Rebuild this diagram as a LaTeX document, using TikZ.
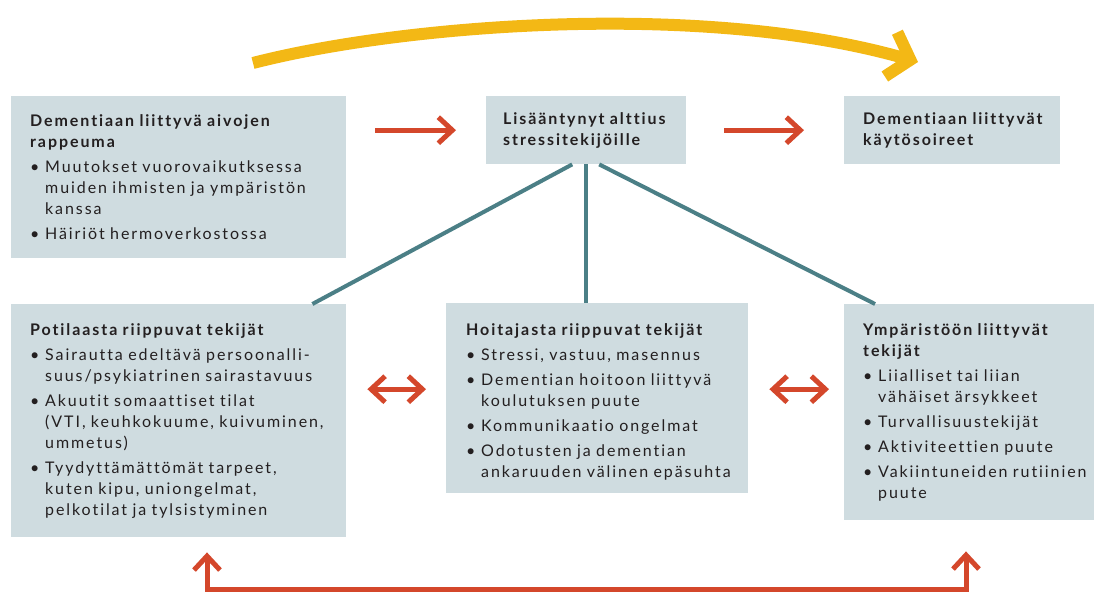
\documentclass[tikz,border=0pt]{standalone}
\usepackage{fontspec}
\setmainfont{Lato}[LetterSpace=12,Ligatures={NoCommon,NoContextual}]
\usepackage{tikz}
\usetikzlibrary{arrows.meta,positioning}

\definecolor{laatikkovari}{HTML}{CFDCE0}
\definecolor{tekstivari}{HTML}{231F20}
\definecolor{punainen}{HTML}{D4472B}
\definecolor{keltainen}{HTML}{F3B815}
\definecolor{turkoosi}{HTML}{4B7F86}

% otsikko ja luettelon kohta (riippuva sisennys, rivit katkaistaan kasin)
\newcommand{\otsikko}[1]{\rightskip=-40pt plus 1fil\textbf{#1}\par}
\newcommand{\kohta}[1]{\vspace{4pt}\hangindent=15pt\hangafter=1\rightskip=-40pt plus 1fil
  \noindent\makebox[15pt][l]{\textbullet}#1\par}

\begin{document}
\begin{tikzpicture}[x=1pt,y=-1pt,>={Straight Barb[length=14pt,width=26pt]},
  laatikko/.style={fill=laatikkovari,text=tekstivari,align=left,anchor=north west,
    inner xsep=19pt,inner ysep=0pt,font=\fontsize{16}{21}\selectfont},
  nuoli/.style={draw=punainen,line width=5pt},
  yhteys/.style={draw=turkoosi,line width=4pt}]
%\tikzstyle{every node}=[draw=red]
  \useasboundingbox (0,0) rectangle (1094,592);

  \node[laatikko,text width=297pt,minimum height=162pt] (aivo) at (11,96)
    {\otsikko{Dementiaan liittyvä aivojen\newline rappeuma}
     \kohta{Muutokset vuorovaikutksessa\newline muiden ihmisten ja ympäristön\newline kanssa}
     \kohta{Häiriöt hermoverkostossa}};
  \node[laatikko,text width=166pt,inner xsep=17pt,minimum height=68pt] (stressi) at (486,96)
    {\otsikko{Lisääntynyt alttius\newline stressitekijöille}};
  \node[laatikko,text width=178pt,minimum height=68pt] (oireet) at (844,96)
    {\otsikko{Dementiaan liittyvät\newline käytösoireet}};

  \node[laatikko,text width=297pt,minimum height=233pt] (potilas) at (11,304)
    {\otsikko{Potilaasta riippuvat tekijät}
     \kohta{Sairautta edeltävä persoonalli-\newline suus/psykiatrinen sairastavuus}
     \kohta{Akuutit somaattiset tilat\newline (VTI, keuhkokuume, kuivuminen,\newline ummetus)}
     \kohta{Tyydyttämättömät tarpeet,\newline kuten kipu, uniongelmat,\newline pelkotilat ja tylsistyminen}};
  \node[laatikko,text width=262pt,inner xsep=20pt,minimum height=190pt] (hoitaja) at (446,303)
    {\otsikko{Hoitajasta riippuvat tekijät}
     \kohta{Stressi, vastuu, masennus}
     \kohta{Dementian hoitoon liittyvä\newline koulutuksen puute}
     \kohta{Kommunikaatio ongelmat}
     \kohta{Odotusten ja dementian\newline ankaruuden välinen epäsuhta}\vspace{-7pt}};
  \node[laatikko,text width=212pt,minimum height=216pt] (ymparisto) at (844,304)
    {\otsikko{Ympäristöön liittyvät\newline tekijät}
     \kohta{Liialliset tai liian\newline vähäiset ärsykkeet}
     \kohta{Turvallisuustekijät}
     \kohta{Aktiviteettien puute}
     \kohta{Vakiintuneiden rutiinien\newline puute}};

  % stressialttiudesta alas
  \draw[yhteys] ([xshift=-14pt]stressi.south) -- ([xshift=-34pt]potilas.north east);
  \draw[yhteys] (stressi.south) -- (stressi.south |- hoitaja.north);
  \draw[yhteys] ([xshift=13pt]stressi.south) -- ([xshift=31pt]ymparisto.north west);

  % punaiset nuolet
  \draw[nuoli,->,shorten <=29pt,shorten >=30pt] (aivo.east |- stressi.west) -- (stressi.west);
  \draw[nuoli,->,shorten <=38pt,shorten >=40pt] (stressi.east) -- (oireet.west);
  \draw[nuoli,<->,shorten <=21pt,shorten >=20pt]
    ([yshift=9pt]hoitaja.west -| potilas.east) -- ([yshift=9pt]hoitaja.west);
  \draw[nuoli,<->,shorten <=21pt,shorten >=15pt]
    ([yshift=9pt]hoitaja.east) -- ([yshift=9pt]hoitaja.east -| ymparisto.west);
  \draw[nuoli,<->,miter limit=10,shorten <=15pt,shorten >=31pt]
    ([xshift=196pt]potilas.south west) -- ++(0,52) -| ([xshift=122pt]ymparisto.south west);

  % keltainen kaari
  \draw[draw=keltainen,line width=12pt,-{Straight Barb[length=20pt,width=46pt]}]
    (253,63) .. controls (400,25) and (700,0) .. (918,62);
\end{tikzpicture}
\end{document}
